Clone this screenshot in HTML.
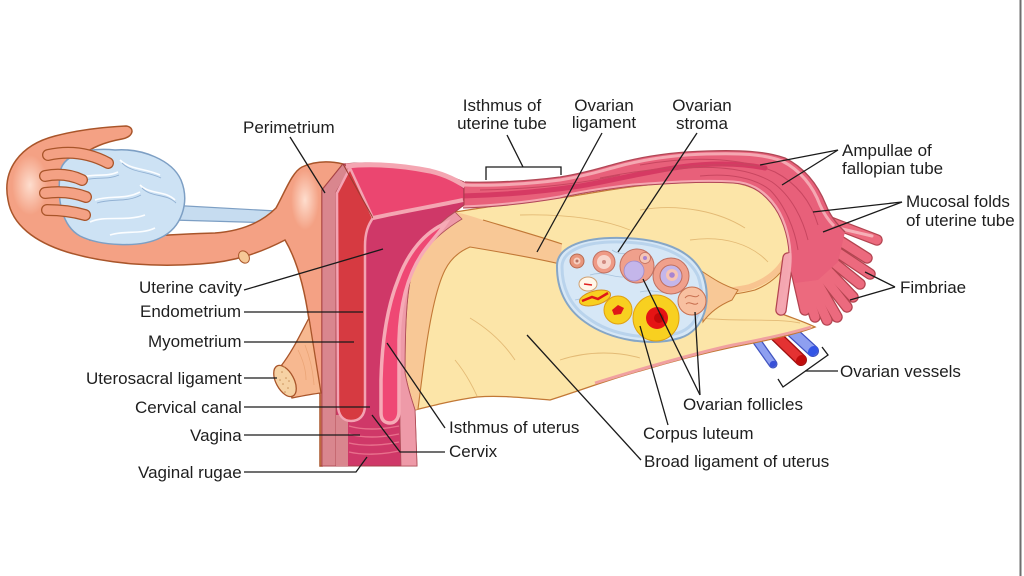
<!DOCTYPE html>
<html><head><meta charset="utf-8">
<style>
html,body{margin:0;padding:0;background:#fff;}
svg{display:block;}
text{font-family:"Liberation Sans",Arial,sans-serif;font-size:17px;fill:#1e1e1e;}
</style></head><body>
<svg width="1024" height="576" viewBox="0 0 1024 576" xmlns="http://www.w3.org/2000/svg">
<defs>
<radialGradient id="hl" cx="50%" cy="50%" r="50%">
<stop offset="0" stop-color="#ffe4d6" stop-opacity="0.9"/>
<stop offset="1" stop-color="#ffe4d6" stop-opacity="0"/>
</radialGradient>
</defs>
<rect width="1024" height="576" fill="#fff"/>

<!-- ovarian vessels -->
<g stroke-linecap="round" fill="none">
 <line x1="756" y1="340" x2="773" y2="364" stroke="#4255c0" stroke-width="9"/>
 <line x1="756" y1="340" x2="773" y2="364" stroke="#8e9ff0" stroke-width="6.5"/>
 <line x1="788" y1="328" x2="813" y2="351" stroke="#3d50c0" stroke-width="12"/>
 <line x1="788" y1="328" x2="813" y2="351" stroke="#8e9ff0" stroke-width="9.5"/>
 <line x1="774" y1="334" x2="801" y2="360" stroke="#a01010" stroke-width="12"/>
 <line x1="774" y1="334" x2="801" y2="360" stroke="#e43232" stroke-width="9.5"/>
</g>
<ellipse cx="773" cy="364" rx="3.5" ry="3" fill="#3850d8" transform="rotate(-35 773 364)"/>
<ellipse cx="813" cy="351" rx="5.5" ry="4.5" fill="#3355e6" transform="rotate(-45 813 351)"/>
<ellipse cx="801" cy="360" rx="5.5" ry="4.5" fill="#c00c0c" transform="rotate(-45 801 360)"/>

<!-- broad ligament (yellow) -->
<path d="M455,212 C480,208 520,202 567,197 C600,192 633,184 700,181 C730,180 752,184 766,196 C782,210 790,233 790,253 C789,275 783,296 777,312 C792,318 805,322 815,327 C800,333 770,340 733,347 C700,354 670,362 640,371 C610,379 585,389 550,400 C525,398 500,395 477,397 C455,400 435,405 415,410 L405,373 C404,320 406,290 413,267 C420,245 435,225 455,212 Z" fill="#fce5a8" stroke="#c27836" stroke-width="1.3"/>
<path d="M595,383 C640,369 700,352 733,345 C770,338 798,331 811,327" fill="none" stroke="#f0a0a0" stroke-width="3"/>
<g fill="none" stroke="#d9a860" stroke-width="0.9" opacity="0.7">
 <path d="M470,318 C490,330 505,345 515,360"/>
 <path d="M455,360 C465,372 472,385 477,396"/>
 <path d="M640,210 C680,203 720,212 745,228"/>
 <path d="M690,240 C725,235 752,245 768,262"/>
 <path d="M700,318 C740,322 775,318 800,323"/>
 <path d="M520,215 C560,214 600,218 630,230"/>
 <path d="M560,360 C590,350 620,352 640,358"/>
</g>
<!-- lower boundary of mesosalpinx -->
<path d="M703,293 C715,292 733,291 750,287 C767,281 779,272 786,258" fill="none" stroke="#f8c490" stroke-width="6"/>
<path d="M703,297 C720,296 740,294 755,290 C770,284 781,274 788,262" fill="none" stroke="#c27836" stroke-width="1.1"/>

<!-- peach ovarian ligament region -->
<path d="M455,212 C465,214 474,217 483,220 C510,228 538,236 562,244 L560,264 C535,258 500,252 470,247 C458,252 450,260 445,270 C435,290 428,330 423,370 L418,409 L415,410 C411,400 407,390 405,373 C405,320 407,290 413,267 C420,245 435,225 455,212 Z" fill="#f8c896"/>
<path d="M483,220 C510,228 538,236 562,244 M560,264 C535,258 500,252 470,247 C458,252 450,260 445,270 C435,290 428,330 423,370 L418,409" fill="none" stroke="#c27836" stroke-width="1.1"/>
<!-- mesovarium right of ovary -->
<path d="M700,270 C712,278 722,285 738,290 L732,300 C720,305 710,312 703,322 Z" fill="#f8c896" stroke="#c27836" stroke-width="1"/>

<!-- ovary -->
<path d="M557,267 C556,248 580,239 610,238 C650,237 690,245 703,275 C712,300 705,330 680,338 C650,347 610,340 585,322 C565,308 557,288 557,267 Z" fill="#d6e7f6" stroke="#86a6c6" stroke-width="2"/>
<path d="M562,267 C562,251 583,243 610,242 C648,241 685,249 698,276 C706,299 700,326 678,333 C650,341 612,336 588,318 C569,305 562,286 562,267 Z" fill="none" stroke="#b9d3ec" stroke-width="3"/>
<g fill="none" stroke="#a8c2dc" stroke-width="0.8">
 <path d="M590,275 C605,270 615,280 630,276"/>
 <path d="M612,250 C620,256 628,252 640,255"/>
 <path d="M640,292 C655,288 665,296 680,292"/>
 <path d="M575,300 C590,296 600,302 612,298"/>
</g>
<!-- follicles -->
<circle cx="577" cy="261" r="7" fill="#e8967c" stroke="#b86a50" stroke-width="1"/>
<circle cx="577" cy="261" r="3.5" fill="#f6cfc0"/>
<circle cx="577" cy="261" r="1.5" fill="#b87060"/>
<circle cx="604" cy="262" r="11" fill="#ef9a86" stroke="#c07060" stroke-width="1"/>
<circle cx="604" cy="262" r="7" fill="#f8d6cc"/>
<circle cx="604" cy="262" r="2" fill="#d08a80"/>
<circle cx="637" cy="266" r="17" fill="#f0a08c" stroke="#c07060" stroke-width="1"/>
<ellipse cx="634" cy="271" rx="10" ry="10" fill="#c4b6ea" stroke="#a08ac8" stroke-width="0.8"/>
<circle cx="645" cy="258" r="5.5" fill="#f6c4b4" stroke="#c07060" stroke-width="0.8"/>
<circle cx="645" cy="258" r="2" fill="#a884d0"/>
<circle cx="671" cy="276" r="18" fill="#f0a08c" stroke="#c07060" stroke-width="1"/>
<circle cx="671" cy="276" r="11" fill="#c4b6ea" stroke="#c07060" stroke-width="1"/>
<circle cx="672" cy="275" r="6" fill="#f6c4b4"/>
<circle cx="672" cy="275" r="2.8" fill="#a884d0"/>
<ellipse cx="588" cy="284" rx="9" ry="7" fill="#fff7ea" stroke="#d0a070" stroke-width="1"/>
<path d="M584,284 L592,285" stroke="#e02020" stroke-width="1.5"/>
<ellipse cx="595" cy="298" rx="16" ry="7" fill="#f8d020" stroke="#d89020" stroke-width="1" transform="rotate(-15 595 298)"/>
<path d="M582,301 L592,297 L598,299 L608,293" fill="none" stroke="#e01818" stroke-width="2.5"/>
<circle cx="618" cy="310" r="14" fill="#f8d020" stroke="#e0a010" stroke-width="1"/>
<path d="M612,310 L618,305 L624,308 L621,314 L614,315 Z" fill="#e01818"/>
<circle cx="656" cy="318" r="23" fill="#f8d020" stroke="#e0a010" stroke-width="1"/>
<circle cx="657" cy="318" r="11" fill="#e51414"/>
<circle cx="659" cy="318" r="5" fill="#c40808"/>
<circle cx="692" cy="301" r="14" fill="#f8c0a0" stroke="#c87050" stroke-width="1"/>
<path d="M685,298 C690,292 695,300 699,295 M686,304 C690,300 694,307 698,303" fill="none" stroke="#c87050" stroke-width="1"/>

<!-- fimbriae -->
<g stroke-linecap="round" fill="none">
 <g stroke="#b34450" stroke-width="11.5">
  <path d="M830,222 L877,240"/><path d="M826,232 L867,258"/><path d="M822,242 L870,274"/>
  <path d="M818,250 L860,284"/><path d="M814,256 L853,297"/><path d="M810,260 L847,307"/>
  <path d="M806,263 L837,317"/><path d="M802,265 L827,320"/><path d="M798,265 L815,317"/>
  <path d="M794,262 L805,310"/><path d="M788,258 L781,310"/>
 </g>
 <g stroke="#ec6a7e" stroke-width="9">
  <path d="M830,222 L877,240"/><path d="M826,232 L867,258"/><path d="M822,242 L870,274"/>
  <path d="M818,250 L860,284"/><path d="M814,256 L853,297"/><path d="M810,260 L847,307"/>
  <path d="M806,263 L837,317"/><path d="M802,265 L827,320"/><path d="M798,265 L815,317"/>
  <path d="M794,262 L805,310"/>
 </g>
 <path d="M788,258 L781,310" stroke="#f4a6b0" stroke-width="9"/>
 <path d="M838,228 L872,236" stroke="#f6b0b8" stroke-width="3"/>
</g>

<!-- uterine tube -->
<path d="M430,170 C445,174 455,180 465,182 C490,183 530,181 560,177 C585,173 600,168 615,164 C640,157 670,152 707,151 C740,150 765,151 785,158 C805,168 818,185 826,205 C830,215 835,222 845,232 L838,262 L818,280 L795,283 L790,268 C791,262 791,258 790,253 C789,235 783,215 772,202 C762,190 750,183 733,182 C700,180 660,183 633,185 C600,189 575,193 560,197 C530,202 500,206 463,207 L455,198 Z" fill="#e8607a"/>
<path d="M465,182 C490,183 530,181 560,177 C585,173 600,168 615,164 C640,157 670,152 707,151 C740,150 765,151 785,158 C805,168 818,185 826,205 C830,215 835,222 845,232" fill="none" stroke="#b04856" stroke-width="1.3"/>
<path d="M465,185 C490,186 530,184 560,180 C586,176 601,171 616,167 C641,160 671,155 707,154 C740,153 763,154 782,161 C800,170 813,186 820,205 C824,214 828,220 834,226" fill="none" stroke="#f5a8b2" stroke-width="3"/>
<path d="M462,196 C500,195 540,192 580,186 C610,181 640,173 680,167 C710,163 740,163 765,168" fill="none" stroke="#d63a63" stroke-width="5" stroke-linecap="round"/>
<path d="M463,207 C500,206 530,202 560,197 C575,193 600,189 633,185 C660,183 700,180 733,182 C750,183 762,190 772,202 C783,215 789,235 790,253 C791,265 788,285 781,308" fill="none" stroke="#f5a8b2" stroke-width="3"/>
<path d="M463,208 C500,207 530,203 560,198 C575,194 600,190 633,186 C660,184 700,181 733,183 C750,184 761,191 771,203 C782,216 788,236 789,253" fill="none" stroke="#b04856" stroke-width="1"/>
<g fill="none" stroke="#c84660" stroke-width="1">
 <path d="M640,165 C690,156 740,157 775,172 C800,185 812,205 818,225"/>
 <path d="M660,172 C700,164 745,166 772,182 C792,196 803,220 808,240"/>
 <path d="M700,176 C730,173 755,178 770,190 C785,205 795,230 798,250"/>
 <path d="M600,178 C640,170 700,162 760,166"/>
 <path d="M480,190 C530,189 580,184 620,175"/>
</g>

<!-- left blue ligament -->
<path d="M168,205 L276,211 L276,223 L172,220 Z" fill="#c6dcf0" stroke="#7d9fc4" stroke-width="1.2"/>

<!-- salmon: left tube, fimbria and uterine body -->
<path d="M8,200 C2,170 20,145 55,136 C78,130 105,127 126,126 C135,127 134,137 122,139 C105,142 90,148 82,156 L90,240 C130,238 170,234 215,233 C242,231 262,222 276,208 C285,192 292,172 302,167 C315,161 330,161 343,164 L322,190 L322,466 L320,466 L320,395 L309,320 C305,292 298,262 285,240 C262,252 235,262 200,264 C160,267 110,265 67,252 C35,242 12,225 8,200 Z" fill="#f4a184" stroke="#a9552a" stroke-width="1.5"/>
<ellipse cx="30" cy="185" rx="18" ry="30" fill="url(#hl)"/>
<ellipse cx="305" cy="200" rx="14" ry="30" fill="url(#hl)"/>
<!-- small stub -->
<ellipse cx="244" cy="257" rx="5" ry="6.5" fill="#f6c896" stroke="#a9552a" stroke-width="1" transform="rotate(-30 244 257)"/>
<!-- uterosacral ligament -->
<path d="M309,318 C300,335 292,352 281,366 L292,398 C302,396 312,394 321,393 Z" fill="#f7b890" stroke="#a9552a" stroke-width="1.3"/>
<g stroke="#e8a070" stroke-width="0.8" fill="none" opacity="0.8">
 <path d="M298,350 C303,360 306,370 306,380"/><path d="M305,345 C310,358 313,370 314,385"/>
</g>
<ellipse cx="285" cy="381" rx="9" ry="17" fill="#f6d2a4" stroke="#a9552a" stroke-width="1.3" transform="rotate(-28 285 381)"/>
<g fill="#c8905a">
 <circle cx="282" cy="372" r="0.8"/><circle cx="286" cy="378" r="0.8"/><circle cx="283" cy="384" r="0.8"/>
 <circle cx="288" cy="388" r="0.8"/><circle cx="280" cy="380" r="0.8"/><circle cx="285" cy="392" r="0.8"/>
 <circle cx="289" cy="381" r="0.8"/><circle cx="284" cy="367" r="0.8"/>
</g>

<!-- left ovary -->
<path d="M60,175 C60,155 88,147 115,150 C142,148 172,160 181,180 C190,202 182,228 160,238 C140,248 100,246 80,236 C62,226 57,200 60,175 Z" fill="#cde2f4" stroke="#7d9fc4" stroke-width="1.5"/>
<g fill="none" stroke="#fbfdff" stroke-width="1.6">
 <path d="M75,180 C90,172 105,178 118,172"/><path d="M95,200 C110,195 125,200 140,192"/>
 <path d="M120,160 C130,170 145,168 160,175"/><path d="M90,222 C105,215 125,222 145,215"/>
 <path d="M140,185 C150,195 165,190 175,200"/><path d="M110,235 C125,230 140,235 155,228"/>
</g>
<g fill="none" stroke="#93b2d4" stroke-width="0.9">
 <path d="M78,183 C92,175 106,181 119,175"/><path d="M97,203 C112,198 126,203 141,195"/>
 <path d="M122,163 C132,173 147,171 161,178"/><path d="M142,188 C152,198 166,193 176,203"/>
</g>
<!-- left fimbrial fingers over ovary -->
<g stroke-linecap="round" fill="none">
 <g stroke="#a9552a" stroke-width="12">
  <path d="M48,155 Q80,148 108,163"/><path d="M45,176 Q65,172 82,180"/>
  <path d="M45,193 Q68,190 86,197"/><path d="M47,210 Q68,210 85,215"/>
 </g>
 <g stroke="#f4a184" stroke-width="9.5">
  <path d="M48,155 Q80,148 108,163"/><path d="M45,176 Q65,172 82,180"/>
  <path d="M45,193 Q68,190 86,197"/><path d="M47,210 Q68,210 85,215"/>
 </g>
</g>

<!-- uterus cut face -->
<path d="M343,164 C370,161 400,164 430,170 C445,174 455,178 464,182 L464,205 L455,212 C435,225 420,245 413,267 C407,290 405,320 405,373 C408,390 412,400 415,410 L417,466 L322,466 L322,190 Z" fill="#cf3868" stroke="#a8404a" stroke-width="1"/>
<path d="M343,164 L350,168 L336,192 L336,466 L322,466 L322,190 Z" fill="#d9868e" stroke="#a8404a" stroke-width="0.8"/>
<rect x="336" y="415" width="12" height="51" fill="#d9868e"/>
<path d="M350,167 C375,164 405,167 430,172 C446,176 456,182 463,189 L463,199 C440,204 400,211 373,218 Z" fill="#eb4670"/>
<path d="M346,166 C375,163 405,166 430,171 C447,175 457,181 465,186" stroke="#f4a6b2" stroke-width="5" fill="none"/>
<path d="M350,168 L373,218 C368,225 365,233 365,246 L365,405 C365,416 359,421 351,421 C343,421 338,415 338,405 L337,193 Z" fill="#d63a41" stroke="#f3a3b2" stroke-width="2.5"/>
<line x1="343" y1="164" x2="373" y2="218" stroke="#9c3a30" stroke-width="1"/>
<path d="M373,218 C400,212 440,205 463,200" stroke="#f4a6b2" stroke-width="4" fill="none"/>
<!-- right wall -->
<path d="M455,212 C435,225 420,245 413,267 C407,290 405,320 405,373 C408,390 412,400 415,410 L417,466 L401,466 L400,425 L400,340 C401,300 410,270 425,250 C435,238 447,228 462,219 Z" fill="#ee9aa8" stroke="#b0505a" stroke-width="0.8"/>
<path d="M446,223 C425,232 408,252 398,280 C388,305 382,340 381,380 L381,413 C381,420 385,423 390,423 C395,423 399,419 399,411 L399,340 C400,302 409,272 424,251 C432,240 440,232 446,223 Z" fill="#ef4874" stroke="#f6aab6" stroke-width="3.5"/>
<!-- rugae -->
<g fill="none" stroke="#e8708c" stroke-width="1.4">
 <path d="M349,426 C362,430 380,430 399,426"/>
 <path d="M349,434 C362,438 380,438 399,434"/>
 <path d="M349,443 C362,446 380,446 399,442"/>
 <path d="M349,452 C362,455 380,455 399,451"/>
</g>

<!-- leader lines -->
<g fill="none" stroke="#1a1a1a" stroke-width="1.3">
 <path d="M290,137 L325,193"/>
 <path d="M244,290 L383,249"/>
 <path d="M244,312 L363,312"/>
 <path d="M244,342 L354,342"/>
 <path d="M244,378 L277,378"/>
 <path d="M244,407 L370,407"/>
 <path d="M244,435 L360,435"/>
 <path d="M244,472 L356,472 L367,457"/>
 <path d="M445,428 L387,343"/>
 <path d="M445,452 L400,452 L372,415"/>
 <path d="M641,460 L527,335"/>
 <path d="M668,425 L640,326"/>
 <path d="M700,395 L643,279"/>
 <path d="M700,395 L695,312"/>
 <path d="M486,180 L486,167 L561,167 L561,175"/>
 <path d="M523,167 L507,135"/>
 <path d="M602,133 L537,252"/>
 <path d="M697,133 L618,252"/>
 <path d="M838,150 L760,165"/>
 <path d="M838,150 L782,185"/>
 <path d="M902,202 L813,212"/>
 <path d="M902,202 L823,232"/>
 <path d="M895,287 L865,272"/>
 <path d="M895,287 L850,300"/>
 <path d="M778,379 L783,387 L828,355 L822,347"/>
 <path d="M805,371 L838,371"/>
</g>

<!-- labels -->
<text x="243" y="133">Perimetrium</text>
<text x="139" y="293">Uterine cavity</text>
<text x="140" y="317">Endometrium</text>
<text x="148" y="347">Myometrium</text>
<text x="86" y="384">Uterosacral ligament</text>
<text x="135" y="413">Cervical canal</text>
<text x="190" y="441">Vagina</text>
<text x="138" y="478">Vaginal rugae</text>
<text x="449" y="433">Isthmus of uterus</text>
<text x="449" y="457">Cervix</text>
<text x="644" y="467">Broad ligament of uterus</text>
<text x="643" y="439">Corpus luteum</text>
<text x="683" y="410">Ovarian follicles</text>
<text x="502" y="111" text-anchor="middle">Isthmus of</text>
<text x="502" y="129" text-anchor="middle">uterine tube</text>
<text x="604" y="111" text-anchor="middle">Ovarian</text>
<text x="604" y="128" text-anchor="middle">ligament</text>
<text x="702" y="111" text-anchor="middle">Ovarian</text>
<text x="702" y="129" text-anchor="middle">stroma</text>
<text x="842" y="156">Ampullae of</text>
<text x="842" y="174">fallopian tube</text>
<text x="906" y="207">Mucosal folds</text>
<text x="906" y="226">of uterine tube</text>
<text x="900" y="293">Fimbriae</text>
<text x="840" y="377">Ovarian vessels</text>

<rect x="1019.5" y="0" width="2" height="576" fill="#6e6e6e"/>
</svg>
</body></html>
